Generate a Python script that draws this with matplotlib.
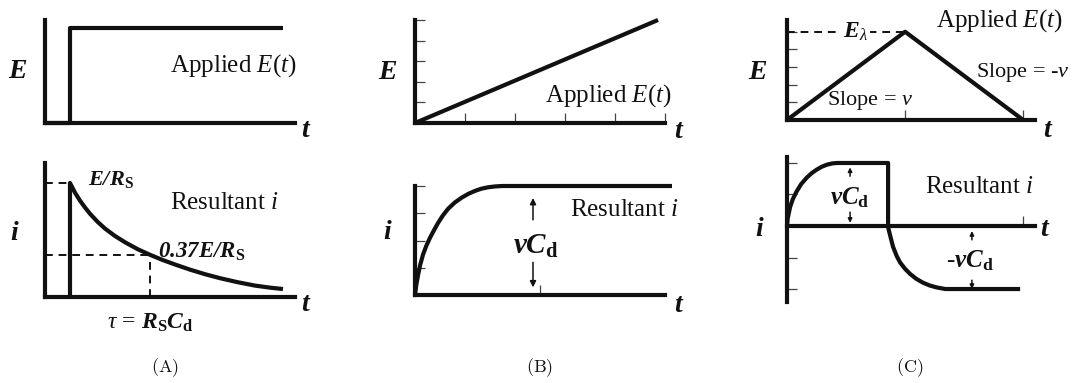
import numpy as np
import matplotlib
matplotlib.use("Agg")
import matplotlib.pyplot as plt

plt.rcParams["font.family"] = ["Liberation Serif", "DejaVu Serif"]
plt.rcParams["mathtext.fontset"] = "custom"
plt.rcParams["mathtext.rm"] = "Liberation Serif"
plt.rcParams["mathtext.it"] = "Liberation Serif:italic"
plt.rcParams["mathtext.bf"] = "Liberation Serif:bold"
plt.rcParams["mathtext.bfit"] = "Liberation Serif:italic:bold"

W, H = 1074, 383
INK = "#111111"
LW = 3.0

# (A) potential step and the decaying charging current
step_t = [0, 1.0, 1.0, 9.5]
step_E = [0, 0, 1.0, 1.0]
decay_t = [1.0, 1.0, 1.2, 1.4, 1.6, 1.8, 2.1, 2.4, 2.8, 3.2, 3.7, 4.2,
           4.7, 5.2, 5.8, 6.4, 7.0, 7.7, 8.4, 9.0, 9.52]
decay_i = [0, 1.0, 0.915, 0.845, 0.785, 0.73, 0.66, 0.60, 0.535, 0.48, 0.42, 0.37,
           0.325, 0.285, 0.24, 0.20, 0.165, 0.13, 0.10, 0.082, 0.07]
tau = 4.2
frac_at_tau = 0.37

# (B) linear sweep and the current rising to vCd
ramp_t = [0, 9.72]
ramp_E = [0, 1.0]
rise_t = [0, 0.05, 0.12, 0.2, 0.32, 0.45, 0.6, 0.75, 0.92, 1.1, 1.32,
          1.6, 1.88, 2.15, 2.4, 2.65, 2.92, 3.2, 3.5, 10.28]
rise_i = [0, 0.09, 0.18, 0.27, 0.37, 0.45, 0.525, 0.59, 0.66, 0.725, 0.79,
          0.85, 0.895, 0.93, 0.955, 0.975, 0.988, 0.996, 1.0, 1.0]
ramp_Eticks = [0.2, 0.4, 0.6, 0.8, 1.0]
ramp_tticks = [2, 4, 6, 8, 10]
rise_iticks = [0.25, 0.5, 0.75, 1.0]
rise_tticks = [5]

# (C) triangular sweep and the square-ish current
tri_t = [0, 5, 10]
tri_E = [0, 1.0, 0]
tri_Eticks = [0.2, 0.4, 0.6, 0.8, 1.0]
tri_tticks = [5, 10]
sq_t = [0, 0.03, 0.13, 0.25, 0.41, 0.6, 0.83, 1.05, 1.26, 1.47, 1.68, 1.9, 2.1,
        4.28, 4.28, 4.30, 4.36, 4.49, 4.65, 4.79, 5.0, 5.21, 5.48, 5.76,
        6.05, 6.34, 6.7, 9.87]
sq_i = [0, 0.12, 0.30, 0.43, 0.55, 0.665, 0.765, 0.84, 0.895, 0.94, 0.972, 0.992, 1.0,
        1.0, 0, -0.05, -0.14, -0.33, -0.48, -0.58, -0.68, -0.76, -0.84, -0.90,
        -0.945, -0.975, -1.0, -1.0]
sq_iticks = [-1.0, -0.5, 0.5, 1.0]
sq_tticks = [10]

captions = ["(A)", "(B)", "(C)"]
caption_x = [165, 540, 910]

fig = plt.figure(figsize=(W / 100, H / 100), dpi=100)


def place(l, t, r, b):
    ax = fig.add_axes([l / W, 1 - b / H, (r - l) / W, (b - t) / H])
    ax.patch.set_visible(False)
    for s in ["top", "right"]:
        ax.spines[s].set_visible(False)
    for s in ["left", "bottom"]:
        ax.spines[s].set_linewidth(LW)
        ax.spines[s].set_color(INK)
        ax.spines[s].set_capstyle("projecting")
    ax.set_xticks([])
    ax.set_yticks([])
    ax.tick_params(direction="in", length=7, width=0.9, color="#444444")
    return ax


def curve(ax, x, y):
    ax.plot(x, y, color=INK, lw=LW, clip_on=False, zorder=5,
            solid_joinstyle="round", solid_capstyle="butt")


def label(ax, x, y, s, size=20, **kw):
    kw.setdefault("ha", "center")
    kw.setdefault("va", "center")
    ax.text(x, y, s, fontsize=size, color=INK, clip_on=False, **kw)


def arrow(ax, x, y0, y1, scale=9):
    ax.annotate("", xy=(x, y1), xytext=(x, y0), annotation_clip=False,
                arrowprops=dict(arrowstyle="-|>", lw=1.1, color=INK,
                                mutation_scale=scale, shrinkA=0, shrinkB=0))


dash = dict(color=INK, lw=1.4, ls=(0, (4, 3)), clip_on=False)
bold_E = r"$\mathbfit{E}$"
bold_i = r"$\mathbfit{i}$"
bold_t = r"$\mathbfit{t}$"

# ---- (A) top
ax = place(45, 20, 295, 123)
ax.set_xlim(0, 10)
ax.set_ylim(0, 1.084)
curve(ax, step_t, step_E)
label(ax, 5.0, 0.6, r"Applied $E(t)$", size=18, ha="left")
label(ax, -1.08, 0.54, bold_E)
label(ax, 10.45, -0.08, bold_t)

# ---- (A) bottom
ax = place(45, 163, 295, 297)
ax.set_xlim(0, 10)
ax.set_ylim(0, 1.175)
curve(ax, decay_t, decay_i)
ax.plot([0, 1.0], [1.0, 1.0], **dash)
ax.plot([0, tau], [frac_at_tau, frac_at_tau], **dash)
ax.plot([tau, tau], [0, frac_at_tau], **dash)
label(ax, 1.7, 1.03, r"$\mathbfit{E/R}_{\mathbf{S}}$", size=16, ha="left")
label(ax, 5.0, 0.82, r"Resultant $i$", size=18, ha="left")
label(ax, 4.5, 0.4, r"$\mathbfit{0.37E/R}_{\mathbf{S}}$", size=16.5, ha="left")
label(ax, 4.2, -0.23,
      r"$\tau\, =\, \mathbfit{R}_{\mathbf{S}}\mathbfit{C}_{\mathbf{d}}$", size=17)
label(ax, -1.2, 0.56, bold_i)
label(ax, 10.45, -0.07, bold_t)

# ---- (B) top
ax = place(415, 20, 665, 123)
ax.set_xlim(0, 10)
ax.set_ylim(0, 1.0)
ax.set_xticks(ramp_tticks)
ax.set_yticks(ramp_Eticks)
ax.set_xticklabels([])
ax.set_yticklabels([])
curve(ax, ramp_t, ramp_E)
label(ax, 5.2, 0.27, r"Applied $E(t)$", size=18, ha="left")
label(ax, -1.08, 0.49, bold_E)
label(ax, 10.55, -0.08, bold_t)

# ---- (B) bottom
ax = place(415, 186, 665, 295)
ax.set_xlim(0, 10)
ax.set_ylim(0, 1.0)
ax.set_xticks(rise_tticks)
ax.set_yticks(rise_iticks)
ax.set_xticklabels([])
ax.set_yticklabels([])
curve(ax, rise_t, rise_i)
arrow(ax, 4.72, 0.69, 0.89)
arrow(ax, 4.72, 0.30, 0.07)
label(ax, 4.85, 0.45, r"$\mathbfit{vC}_{\mathbf{d}}$", size=21)
label(ax, 6.2, 0.78, r"Resultant $i$", size=18, ha="left")
label(ax, -1.08, 0.57, bold_i)
label(ax, 10.55, -0.1, bold_t)

# ---- (C) top
ax = place(787, 20, 1035, 120)
ax.set_xlim(0, 10.5)
ax.set_ylim(0, 1.133)
ax.set_xticks(tri_tticks)
ax.set_yticks(tri_Eticks)
ax.set_xticklabels([])
ax.set_yticklabels([])
curve(ax, tri_t, tri_E)
ax.plot([0, tri_t[1]], [tri_E[1], tri_E[1]], **dash)
label(ax, 2.9, 1.0, r"$\mathbfit{E}_{\lambda}$", size=17,
      bbox=dict(fc="white", ec="none", pad=1.5))
label(ax, 9.0, 1.13, r"Applied $E(t)$", size=18)
label(ax, 3.5, 0.22, r"Slope = $v$", size=16)
label(ax, 10.0, 0.54, r"Slope = -$v$", size=16)
label(ax, -1.23, 0.54, bold_E)
label(ax, 11.06, -0.12, bold_t)

# ---- (C) bottom
ax = place(787, 157, 1035, 302)
ax.set_xlim(0, 10.5)
ax.set_ylim(-1.206, 1.095)
ax.spines["bottom"].set_position(("data", 0))
ax.set_xticks(sq_tticks)
ax.set_yticks(sq_iticks)
ax.set_xticklabels([])
ax.set_yticklabels([])
curve(ax, sq_t, sq_i)
arrow(ax, 2.67, 0.79, 0.93, scale=6)
arrow(ax, 2.67, 0.22, 0.05, scale=6)
label(ax, 2.67, 0.45, r"$\mathbfit{vC}_{\mathbf{d}}$", size=18)
arrow(ax, 7.83, -0.22, -0.08, scale=6)
arrow(ax, 7.83, -0.86, -1.0, scale=6)
label(ax, 7.75, -0.55, r"-$\mathbfit{vC}_{\mathbf{d}}$", size=18)
label(ax, 5.85, 0.62, r"Resultant $i$", size=18, ha="left")
label(ax, -1.14, -0.06, bold_i)
label(ax, 10.93, -0.05, bold_t)

for cap, x in zip(captions, caption_x):
    fig.text(x / W, 1 - 368 / H, r"$\mathrm{" + cap + "}$", fontsize=13,
             ha="center", va="center", math_fontfamily="cm", color=INK)

fig.savefig("out.png", dpi=100)
